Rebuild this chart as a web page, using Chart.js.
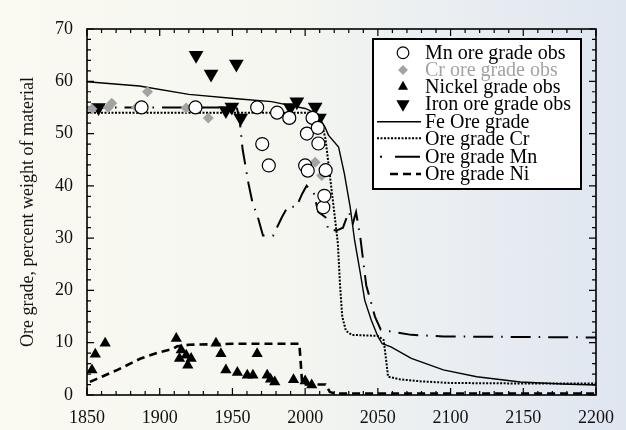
<!DOCTYPE html>
<html>
<head>
<meta charset="utf-8">
<script src="https://cdn.jsdelivr.net/npm/chart.js@4.4.1/dist/chart.umd.min.js"></script>
<style>
  html, body { margin: 0; padding: 0; }
  body {
    width: 626px;
    height: 430px;
    background: linear-gradient(to right, #fafaf2 0%, #f5f6f0 45%, #e9edf2 75%, #dfe6f0 100%);
  }
  canvas { display: block; }
</style>
</head>
<body>
<canvas id="chart" width="626" height="430"></canvas>
<script>
// observed grades
const mnObsYears = [1887.5, 1924.6, 1967, 1970.5, 1975, 1980.7, 1989.1, 2000, 2001.2, 2001.8, 2005.1, 2008.7, 2009.1, 2012.5, 2013.2, 2014.1];
const mnObsGrade = [55, 55, 55, 48, 43.9, 54, 53, 43.9, 50, 42.9, 53, 51.1, 48.1, 35.9, 38.1, 43];

const crObsYears = [1853.4, 1864.7, 1867, 1884.1, 1891.6, 1918.2, 1933.4, 2006.9, 2011.4];
const crObsGrade = [54.7, 55, 55.8, 55, 58, 54.9, 53, 44.5, 42];

const niObsYears = [1853.4, 1855.7, 1862.5, 1911.4, 1913.6, 1914.8, 1918.2, 1919.3, 1921.6, 1938.7, 1942.1, 1945.5, 1953.4, 1960.2, 1964.1, 1967, 1973.9, 1976.2, 1979.1, 1992, 2000, 2004.5];
const niObsGrade = [4.8, 7.8, 9.9, 10.8, 7, 8.6, 7.6, 5.7, 7, 9.9, 7.9, 4.8, 4.3, 3.8, 3.8, 7.9, 3.8, 3, 2.5, 2.9, 2.7, 1.9];

const ironObsYears = [1857.9, 1925, 1935.3, 1945.5, 1949.6, 1952.7, 1955.7, 1989.8, 1994.3, 2006.9, 2009.8];
const ironObsGrade = [55, 65, 61.4, 54.4, 55.1, 63.3, 53, 55, 56.1, 55.1, 53];

// model curves
const feYears = [1850, 1886, 1920, 1955, 1977, 1991, 2000, 2008, 2013.7, 2016, 2023, 2027, 2031, 2034, 2038, 2041, 2045.5, 2050, 2053, 2059, 2073, 2095, 2118, 2148, 2177, 2200];
const feGrade = [59.9, 59.1, 57.5, 56.6, 56.1, 55.3, 54.8, 53.8, 51.2, 49.7, 47.4, 42.3, 35.9, 29.6, 23.2, 18.1, 14.3, 11.2, 9.8, 9.2, 7, 4.8, 3.5, 2.5, 2.1, 1.9];

const crYears = [1850, 2005, 2010, 2014, 2017, 2020, 2022.5, 2024, 2025.5, 2028, 2032, 2050, 2054, 2056, 2057, 2065, 2080, 2100, 2150, 2200];
const crGrade = [54, 54, 53.5, 49, 42, 35, 29, 21, 15, 12.3, 11.5, 11.3, 10.5, 6, 3.5, 3, 2.6, 2.3, 2.2, 2.2];

const mnYears = [1850, 1953, 1955, 1957, 1961, 1964, 1967, 1971, 1978, 1984, 1988, 1994, 1998, 2001, 2004, 2006, 2009, 2014, 2016, 2022, 2026, 2030, 2033, 2035, 2038, 2042, 2048, 2052, 2058, 2073, 2095, 2200];
const mnGrade = [55, 55, 52.5, 47, 40.5, 36.5, 34.5, 30.5, 30.5, 34, 36, 36, 38.5, 40, 39, 38.5, 35, 34, 31.5, 31.5, 32, 35, 33, 35, 30, 21, 15, 12.5, 12.2, 11.5, 11.2, 11];

const niYears = [1852, 1856, 1871, 1887, 1900, 1909, 1912, 1920, 1950, 1996, 1997, 1998, 2014, 2017, 2020, 2200];
const niGrade = [2.5, 3, 4.8, 7, 8.2, 8.8, 9.3, 9.6, 9.8, 9.8, 6, 2, 2, 0.6, 0.3, 0.3];

const xTicks = [1850, 1900, 1950, 2000, 2050, 2100, 2150, 2200];
const yTicks = [0, 10, 20, 30, 40, 50, 60, 70];

const SERIF = "'Liberation Serif', 'Times New Roman', serif";

function toPoints(xs, ys) {
  return xs.map((x, i) => ({ x, y: ys[i] }));
}

function lineSet(label, xs, ys, width, dash) {
  return {
    label,
    data: toPoints(xs, ys),
    showLine: true,
    borderColor: '#000',
    borderWidth: width,
    borderDash: dash,
    pointRadius: 0,
    pointHoverRadius: 0,
    fill: false,
    tension: 0
  };
}

const datasets = [
  {
    label: 'Mn ore grade obs',
    data: toPoints(mnObsYears, mnObsGrade),
    pointStyle: 'circle',
    pointRadius: 6.5,
    backgroundColor: '#fff',
    borderColor: '#000',
    borderWidth: 1.2
  },
  {
    label: 'Cr ore grade obs',
    data: toPoints(crObsYears, crObsGrade),
    pointStyle: 'rectRot',
    pointRadius: 5.5,
    backgroundColor: '#a3a3a3',
    borderColor: '#a3a3a3',
    borderWidth: 0
  },
  {
    label: 'Nickel grade obs',
    data: toPoints(niObsYears, niObsGrade),
    pointStyle: 'triangle',
    pointRadius: 6.5,
    backgroundColor: '#000',
    borderColor: '#000',
    borderWidth: 0
  },
  {
    label: 'Iron ore grade obs',
    data: toPoints(ironObsYears, ironObsGrade),
    pointStyle: 'triangle',
    rotation: 180,
    pointRadius: 8.5,
    backgroundColor: '#000',
    borderColor: '#000',
    borderWidth: 0
  },
  lineSet('Fe Ore grade', feYears, feGrade, 1.4, []),
  lineSet('Ore grade Cr', crYears, crGrade, 2, [2, 1.5]),
  lineSet('Ore grade Mn', mnYears, mnGrade, 2, [20, 8, 1.5, 8]),
  lineSet('Ore grade Ni', niYears, niGrade, 2.6, [8, 5])
];

// frame with inward ticks on all four sides
const frameTicks = {
  id: 'frameTicks',
  afterDatasetsDraw(chart) {
    const { ctx, chartArea: a, scales } = chart;
    ctx.save();
    ctx.strokeStyle = '#000';
    ctx.lineWidth = 1.6;
    ctx.strokeRect(a.left, a.top, a.right - a.left, a.bottom - a.top);
    ctx.lineWidth = 1.2;
    ctx.beginPath();
    for (let v = 1850; v <= 2200; v += 10) {
      const x = scales.x.getPixelForValue(v);
      const len = v % 50 === 0 ? 7 : 4;
      ctx.moveTo(x, a.bottom); ctx.lineTo(x, a.bottom - len);
      ctx.moveTo(x, a.top); ctx.lineTo(x, a.top + len);
    }
    for (let v = 0; v <= 70; v += 2) {
      const y = scales.y.getPixelForValue(v);
      const len = v % 10 === 0 ? 7 : 4;
      ctx.moveTo(a.left, y); ctx.lineTo(a.left + len, y);
      ctx.moveTo(a.right, y); ctx.lineTo(a.right - len, y);
    }
    ctx.stroke();
    ctx.restore();
  }
};

// boxed legend inside the plot, upper right
const boxLegend = {
  id: 'boxLegend',
  afterDraw(chart) {
    const { ctx } = chart;
    const box = { left: 373, top: 39, right: 581, bottom: 189 };
    const rowY = [52.7, 70, 86.7, 104, 121.7, 138.3, 156.7, 174];
    const textX = 425;
    const symX = 403;

    ctx.save();
    ctx.fillStyle = '#fff';
    ctx.fillRect(box.left, box.top, box.right - box.left, box.bottom - box.top);
    ctx.strokeStyle = '#000';
    ctx.lineWidth = 2;
    ctx.strokeRect(box.left, box.top, box.right - box.left, box.bottom - box.top);

    ctx.font = '20px ' + SERIF;
    ctx.textBaseline = 'middle';
    ctx.textAlign = 'left';

    chart.data.datasets.forEach((ds, i) => {
      const y = rowY[i];
      if (!ds.showLine) {
        ctx.fillStyle = ds.backgroundColor;
        ctx.strokeStyle = ds.borderColor;
        ctx.lineWidth = ds.borderWidth;
        Chart.helpers.drawPoint(ctx, {
          pointStyle: ds.pointStyle,
          rotation: ds.rotation || 0,
          radius: ds.pointRadius * 0.9,
          borderWidth: ds.borderWidth
        }, symX, y);
      } else {
        ctx.strokeStyle = '#000';
        ctx.lineWidth = ds.borderWidth;
        ctx.beginPath();
        if (ds.label === 'Ore grade Mn') {
          ctx.setLineDash([]);
          ctx.moveTo(380, y); ctx.lineTo(382, y);
          ctx.moveTo(395, y); ctx.lineTo(420, y);
        } else if (ds.label === 'Ore grade Ni') {
          ctx.setLineDash(ds.borderDash);
          ctx.moveTo(390, y); ctx.lineTo(421, y);
        } else {
          ctx.setLineDash(ds.borderDash);
          ctx.moveTo(377, y); ctx.lineTo(421, y);
        }
        ctx.stroke();
        ctx.setLineDash([]);
      }
      ctx.fillStyle = ds.label === 'Cr ore grade obs' ? '#a3a3a3' : '#000';
      ctx.fillText(ds.label, textX, y + 1);
    });
    ctx.restore();
  }
};

new Chart(document.getElementById('chart'), {
  type: 'scatter',
  data: { datasets },
  options: {
    responsive: false,
    animation: false,
    layout: { padding: { top: 29, right: 26, left: 0, bottom: 0 } },
    plugins: {
      legend: { display: false },
      tooltip: { enabled: false }
    },
    scales: {
      x: {
        type: 'linear',
        min: 1850,
        max: 2200,
        afterFit: scale => { scale.height = 35; },
        afterBuildTicks: scale => { scale.ticks = xTicks.map(v => ({ value: v })); },
        grid: { display: false, drawTicks: false },
        border: { display: false },
        ticks: {
          padding: 12,
          color: '#111',
          font: { family: SERIF, size: 18 },
          callback: v => String(v)
        }
      },
      y: {
        type: 'linear',
        min: 0,
        max: 70,
        afterFit: scale => { scale.width = 87; },
        afterBuildTicks: scale => { scale.ticks = yTicks.map(v => ({ value: v })); },
        grid: { display: false, drawTicks: false },
        border: { display: false },
        ticks: {
          padding: 14,
          color: '#111',
          font: { family: SERIF, size: 18 },
          callback: v => String(v)
        },
        title: {
          display: true,
          text: 'Ore grade, percent weight of material',
          color: '#111',
          font: { family: SERIF, size: 18 },
          padding: { top: 17, bottom: 0 }
        }
      }
    }
  },
  plugins: [frameTicks, boxLegend]
});
</script>
</body>
</html>
